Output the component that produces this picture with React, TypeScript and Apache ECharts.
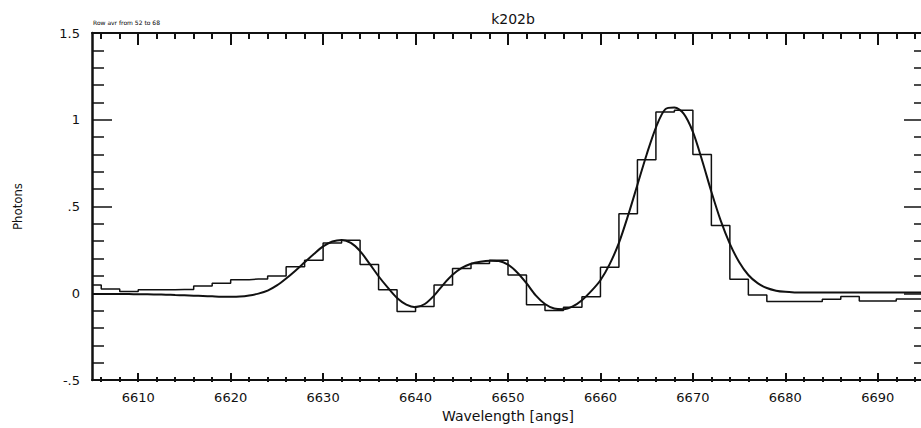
import React, { useEffect, useRef } from "react";
import * as echarts from "echarts";

// Observed spectrum, binned in 2 Å bins (bin centres, photons per bin)
const binCenters = [
  6605, 6607, 6609, 6611, 6613, 6615, 6617, 6619, 6621, 6623,
  6625, 6627, 6629, 6631, 6633, 6635, 6637, 6639, 6641, 6643,
  6645, 6647, 6649, 6651, 6653, 6655, 6657, 6659, 6661, 6663,
  6665, 6667, 6669, 6671, 6673, 6675, 6677, 6679, 6681, 6683,
  6685, 6687, 6689, 6691, 6693, 6695,
];
const binPhotons = [
  0.048, 0.025, 0.01, 0.02, 0.02, 0.022, 0.042, 0.057, 0.078, 0.082,
  0.1, 0.153, 0.19, 0.29, 0.305, 0.165, 0.02, -0.105, -0.077, 0.048,
  0.143, 0.172, 0.19, 0.105, -0.067, -0.1, -0.08, -0.02, 0.15, 0.458,
  0.77, 1.045, 1.055, 0.8, 0.39, 0.08, -0.01, -0.048, -0.048, -0.048,
  -0.034, -0.019, -0.044, -0.044, -0.033, -0.033,
];

// Line-profile fit, sampled every 1 Å
const fitWavelengths = [
  6605, 6606, 6607, 6608, 6609, 6610, 6611, 6612, 6613, 6614,
  6615, 6616, 6617, 6618, 6619, 6620, 6621, 6622, 6623, 6624,
  6625, 6626, 6627, 6628, 6629, 6630, 6631, 6632, 6633, 6634,
  6635, 6636, 6637, 6638, 6639, 6640, 6641, 6642, 6643, 6644,
  6645, 6646, 6647, 6648, 6649, 6650, 6651, 6652, 6653, 6654,
  6655, 6656, 6657, 6658, 6659, 6660, 6661, 6662, 6663, 6664,
  6665, 6666, 6667, 6668, 6669, 6670, 6671, 6672, 6673, 6674,
  6675, 6676, 6677, 6678, 6679, 6680, 6681, 6682, 6683, 6684,
  6685, 6686, 6687, 6688, 6689, 6690, 6691, 6692, 6693, 6694,
  6695,
];
const fitPhotons = [
  -0.005, -0.005, -0.005, -0.005, -0.005, -0.006, -0.006, -0.007, -0.008, -0.01,
  -0.012, -0.014, -0.016, -0.018, -0.02, -0.02, -0.019, -0.013, -0.002, 0.015,
  0.045, 0.085, 0.13, 0.178, 0.226, 0.27, 0.298, 0.307, 0.29, 0.243,
  0.172, 0.098, 0.032, -0.028, -0.066, -0.08, -0.062, -0.014, 0.05, 0.106,
  0.146, 0.17, 0.182, 0.188, 0.186, 0.165, 0.12, 0.058, -0.012, -0.062,
  -0.088, -0.092, -0.076, -0.04, 0.012, 0.075, 0.168, 0.29, 0.45, 0.625,
  0.8, 0.955, 1.06, 1.07, 1.035, 0.93, 0.765, 0.585, 0.42, 0.285,
  0.18, 0.105, 0.058, 0.03, 0.015, 0.008, 0.005, 0.004, 0.004, 0.004,
  0.004, 0.004, 0.004, 0.004, 0.004, 0.004, 0.004, 0.004, 0.004, 0.004,
  0.004,
];

// Axis ticks and their labels
const xMajorFirst = 6610;
const xMajorLast = 6690;
const xMajorStep = 10;
const xMinorFirst = 6606;
const xMinorLast = 6694;
const xMinorStep = 2;
const yTickValues = [-0.5, 0, 0.5, 1, 1.5];
const yTickLabels = ["-.5", "0", ".5", "1", "1.5"];

const X_MIN = 6605;
const X_MAX = 6695;
const Y_MIN = -0.5;
const Y_MAX = 1.5;

const INK = "#111";
const FONT = "DejaVu Sans";
const NARROW_FONT = "DejaVu Sans Condensed, Liberation Sans Narrow, Liberation Sans";

const CHART_W = 926;
const CHART_H = 428;
const PLOT_LEFT = 92;
const PLOT_RIGHT = 2;
const PLOT_TOP = 33;
const PLOT_BOTTOM = 46;

export default function App() {
  const ref = useRef<HTMLDivElement>(null);

  useEffect(() => {
    if (!ref.current) return;
    const chart = echarts.init(ref.current, null, { renderer: "svg" });

    const histogram = binCenters.map((x, i) => [x, binPhotons[i]]);
    const fit = fitWavelengths.map((x, i) => [x, fitPhotons[i]]);

    // pixel position of a wavelength inside the plot frame, used to
    // lay out the tick-only grids so their scales coincide with the main one
    const plotWidth = CHART_W - PLOT_LEFT - PLOT_RIGHT;
    const px = (w: number) => PLOT_LEFT + ((w - X_MIN) / (X_MAX - X_MIN)) * plotWidth;
    const subGrid = (from: number, to: number) => ({
      left: px(from),
      right: CHART_W - px(to),
      top: PLOT_TOP,
      bottom: PLOT_BOTTOM,
      containLabel: false,
    });

    const hiddenLabel = { show: false };
    const noSplit = { show: false };
    const tickStyle = { color: INK, width: 2 };

    const tickAxis = (
      gridIndex: number,
      position: "top" | "bottom",
      min: number,
      max: number,
      interval: number,
      length: number,
      label: boolean,
    ) => ({
      type: "value" as const,
      gridIndex,
      position,
      min,
      max,
      interval,
      splitLine: noSplit,
      axisLine: { show: false, onZero: false },
      axisTick: { show: true, inside: true, length, lineStyle: tickStyle },
      axisLabel: label
        ? { show: true, margin: 9, fontFamily: FONT, fontSize: 13, color: INK, formatter: (v: number) => String(v) }
        : hiddenLabel,
    });

    const hiddenY = (gridIndex: number) => ({
      type: "value" as const,
      gridIndex,
      min: Y_MIN,
      max: Y_MAX,
      show: false,
    });

    chart.setOption({
      animation: false,
      backgroundColor: "#fff",
      title: {
        text: "k202b",
        left: 508,
        top: 7,
        textAlign: "center",
        textStyle: { fontFamily: FONT, fontSize: 14, fontWeight: "normal", color: INK },
      },
      graphic: [
        {
          type: "text",
          left: 93,
          top: 19,
          style: {
            text: "Row avr from 52 to 68",
            fontFamily: FONT,
            fontSize: 6,
            fill: "#000",
          },
        },
      ],
      grid: [
        { left: PLOT_LEFT, right: PLOT_RIGHT, top: PLOT_TOP, bottom: PLOT_BOTTOM, containLabel: false },
        subGrid(xMinorFirst, xMinorLast),
        subGrid(xMajorFirst, xMajorLast),
      ],
      xAxis: [
        {
          type: "value",
          gridIndex: 0,
          position: "bottom",
          min: X_MIN,
          max: X_MAX,
          splitLine: noSplit,
          name: "Wavelength [angs]",
          nameLocation: "middle",
          nameGap: 29,
          nameTextStyle: { fontFamily: FONT, fontSize: 14, color: INK },
          axisLine: { show: true, onZero: false, lineStyle: { color: INK, width: 2 } },
          axisTick: { show: false },
          axisLabel: hiddenLabel,
        },
        {
          type: "value",
          gridIndex: 0,
          position: "top",
          min: X_MIN,
          max: X_MAX,
          splitLine: noSplit,
          axisLine: { show: true, onZero: false, lineStyle: { color: INK, width: 2 } },
          axisTick: { show: false },
          axisLabel: hiddenLabel,
        },
        tickAxis(1, "bottom", xMinorFirst, xMinorLast, xMinorStep, 5, false),
        tickAxis(1, "top", xMinorFirst, xMinorLast, xMinorStep, 6, false),
        tickAxis(2, "bottom", xMajorFirst, xMajorLast, xMajorStep, 9, true),
        tickAxis(2, "top", xMajorFirst, xMajorLast, xMajorStep, 12, false),
      ],
      yAxis: [
        {
          type: "value",
          gridIndex: 0,
          position: "left",
          min: Y_MIN,
          max: Y_MAX,
          interval: 0.5,
          splitLine: noSplit,
          name: "Photons",
          nameLocation: "middle",
          nameGap: 68,
          nameRotate: 90,
          nameTextStyle: { fontFamily: NARROW_FONT, fontSize: 13, color: INK },
          axisLine: { show: true, onZero: false, lineStyle: { color: INK, width: 2.5 } },
          axisTick: { show: true, inside: true, length: 20, lineStyle: { color: INK, width: 1.5 } },
          minorTick: { show: true, splitNumber: 5, length: 12, lineStyle: { color: INK, width: 1.5 } },
          axisLabel: {
            show: true,
            margin: 12,
            fontFamily: FONT,
            fontSize: 13,
            color: INK,
            formatter: (v: number) => {
              const i = yTickValues.findIndex((t) => Math.abs(t - v) < 1e-9);
              return i >= 0 ? yTickLabels[i] : "";
            },
          },
        },
        {
          type: "value",
          gridIndex: 0,
          position: "right",
          min: Y_MIN,
          max: Y_MAX,
          interval: 0.5,
          splitLine: noSplit,
          axisLine: { show: true, onZero: false, lineStyle: { color: INK, width: 2 } },
          axisTick: { show: true, inside: true, length: 20, lineStyle: { color: INK, width: 1.5 } },
          minorTick: { show: true, splitNumber: 5, length: 10, lineStyle: { color: INK, width: 1.5 } },
          axisLabel: hiddenLabel,
        },
        hiddenY(1),
        hiddenY(2),
      ],
      series: [
        {
          name: "binned",
          type: "line",
          xAxisIndex: 0,
          yAxisIndex: 0,
          data: histogram,
          step: "middle",
          symbol: "none",
          lineStyle: { color: INK, width: 1.5 },
          clip: true,
        },
        {
          name: "fit",
          type: "line",
          xAxisIndex: 0,
          yAxisIndex: 0,
          data: fit,
          smooth: 0.3,
          symbol: "none",
          lineStyle: { color: INK, width: 2 },
          clip: true,
        },
      ],
    });

    return () => chart.dispose();
  }, []);

  return (
    <div style={{ position: "fixed", left: 0, top: 0, width: "100vw", height: "100vh", overflow: "hidden", background: "#fff" }}>
      <div ref={ref} style={{ width: CHART_W, height: CHART_H }} />
    </div>
  );
}
